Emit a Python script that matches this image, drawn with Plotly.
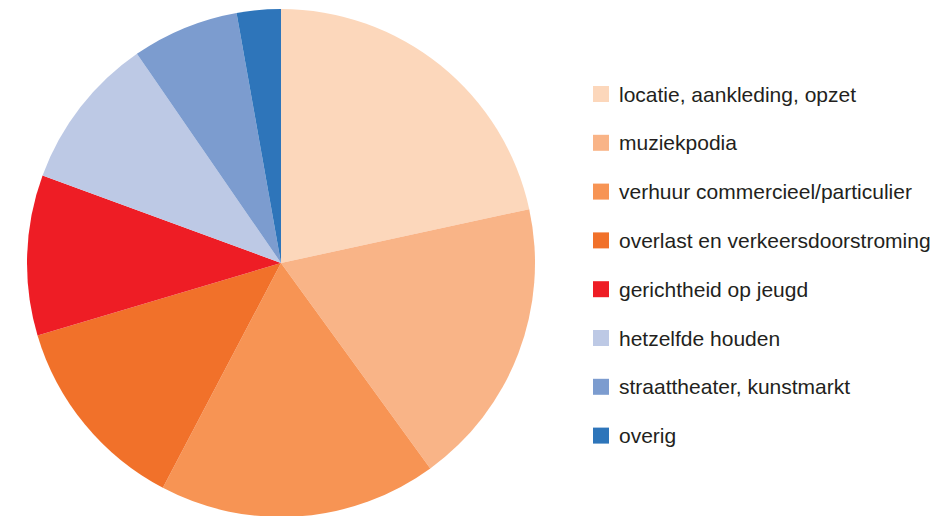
import plotly.graph_objects as go

labels = ['locatie, aankleding, opzet', 'muziekpodia', 'verhuur commercieel/particulier',
          'overlast en verkeersdoorstroming', 'gerichtheid op jeugd', 'hetzelfde houden',
          'straattheater, kunstmarkt', 'overig']
values = [21.6, 18.4, 17.7, 12.7, 10.2, 9.8, 6.8, 2.8]
colors = ['#fcd7bb', '#f9b487', '#f79454', '#f1712a', '#ee1d25', '#bdc9e5', '#7c9ccf', '#2e75ba']

W, H = 945, 516
off = 8  # page body margin
mt, mb = 1, 7
cx, r = 281 - off, 254

def px(x):
    return (x - off) / W

def py(y):
    return 1 - (y - off - mt) / (H - mt - mb)

pie = go.Pie(labels=labels, values=values, sort=False, direction='clockwise', rotation=0,
             marker=dict(colors=colors, line=dict(width=0)), textinfo='none',
             hoverinfo='label+percent', showlegend=False,
             domain=dict(x=[(cx - r) / W, (cx + r) / W], y=[0, 1]))

fig = go.Figure(data=[pie])

# handmade legend
shapes = []
annotations = []
for i, (lab, col) in enumerate(zip(labels, colors)):
    yc = 94 + i * 48.8
    shapes.append(dict(type='rect', xref='paper', yref='paper',
                       x0=px(593), x1=px(609), y0=py(yc - 8), y1=py(yc + 8),
                       fillcolor=col, line=dict(width=0)))
    annotations.append(dict(text=lab, xref='paper', yref='paper', x=px(617), y=py(yc),
                            xanchor='left', yanchor='middle', showarrow=False,
                            font=dict(size=21, color='#231f20', family='Liberation Sans, Arial')))

fig.update_layout(width=W, height=H, margin=dict(l=0, r=0, t=mt, b=mb),
                  paper_bgcolor='white', plot_bgcolor='white',
                  shapes=shapes, annotations=annotations)

fig.write_html('out.html')
